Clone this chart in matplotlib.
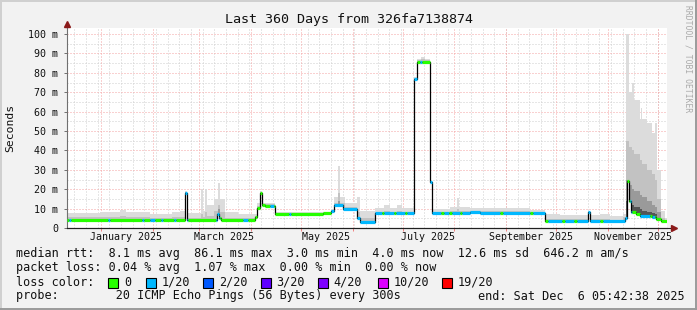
import matplotlib
matplotlib.use("Agg")
import matplotlib.pyplot as plt
from matplotlib.patches import Rectangle
from matplotlib.lines import Line2D
import numpy as np
from datetime import datetime

# ---- data (days since start of the 360 day window, values in ms) ----
start = datetime(2024, 12, 11, 5, 42, 38)
span_days = 360

med_day = [0, 70.8, 72, 90, 91.2, 92.4, 112.8, 114, 115.8, 117, 118.8, 124.8,
           153.6, 158.4, 160.2, 165.6, 174, 175.8, 184.8, 208.2, 210, 217.8,
           219, 241.8, 247.8, 286.8, 312.6, 313.8, 334.8, 336, 337.2, 338.4,
           341.4, 343.8, 351, 353.4, 356.4]
med_val = [4.3, 18.0, 4.3, 7.0, 5.0, 4.3, 5.5, 10.5, 18.0, 12.0, 11.5, 7.3,
           7.8, 9.0, 12.0, 10.0, 5.0, 3.2, 7.7, 77.0, 85.5, 23.5,
           7.7, 8.3, 7.9, 3.7, 8.0, 3.7, 5.0, 24.0, 14.0, 8.0,
           7.0, 6.2, 5.5, 4.5, 3.6]

smoke_day = [0, 19.8, 31.8, 35.4, 49.8, 63, 67.8, 70.8, 72, 80.4, 81.6, 82.8,
             84, 88.2, 90.6, 91.8, 94.8, 102.6, 112.8, 114, 115.8, 117, 124.8,
             158.4, 160.2, 162.6, 163.8, 166.8, 174, 175.8, 184.8, 190.2, 193.8,
             198, 201, 208.2, 210, 212.4, 214.8, 217.8, 219, 229.8, 234, 235.2,
             241.8, 277.8, 286.8, 295.8, 312.6, 313.8, 319.8, 325.8, 333.6,
             335.4, 337.2, 339, 340.2, 343.8, 344.4, 345, 348, 351, 352.8, 354,
             356.4, 358.8]
smoke_hi = [7.5, 8.0, 9.5, 8.0, 7.0, 8.0, 9.0, 19.0, 7.5, 20.0, 9.0, 20.0,
            12.0, 15.0, 23.0, 15.0, 8.0, 7.0, 7.0, 13.0, 19.0, 13.0, 8.5,
            10.0, 16.0, 32.0, 16.0, 13.0, 16.0, 9.0, 10.5, 12.0, 10.5,
            12.0, 10.5, 78.0, 87.0, 88.0, 87.0, 25.0, 10.0, 11.0, 15.5, 11.0,
            10.5, 9.5, 7.0, 6.5, 9.0, 6.5, 7.0, 6.0, 7.0,
            100.0, 70.0, 75.0, 66.0, 56.0, 62.0, 56.0, 54.0, 49.0, 54.0, 30.0,
            9.0, 5.0]
smoke_mid = [5.5, 5.5, 6.0, 5.5, 5.0, 5.5, 5.5, 18.5, 5.0, 7.0, 5.5, 8.0,
             6.0, 9.0, 12.0, 8.0, 5.0, 5.0, 6.0, 11.5, 18.5, 12.5, 7.8,
             9.5, 13.0, 18.0, 13.0, 11.0, 8.0, 5.0, 8.5, 9.0, 8.5,
             9.0, 8.5, 77.5, 86.5, 87.0, 86.5, 24.0, 8.5, 9.0, 10.0, 9.0,
             9.0, 8.5, 4.5, 4.5, 8.5, 4.5, 4.5, 4.3, 5.5,
             45.0, 42.0, 40.0, 38.0, 35.0, 35.0, 33.0, 30.0, 28.0, 25.0, 15.0,
             5.0, 4.0]
smoke_q3 = [0, 0, 0, 0, 0, 0, 0, 18.5, 0, 0, 0, 0,
            0, 0, 10.0, 0, 0, 0, 0, 0, 18.0, 0, 0,
            0, 0, 14.0, 0, 0, 0, 0, 0, 0, 0,
            0, 0, 0, 0, 0, 0, 0, 0, 0, 0, 0,
            0, 0, 0, 0, 0, 0, 0, 0, 0,
            25.0, 22.0, 20.0, 19.0, 17.0, 17.0, 16.0, 14.0, 12.0, 11.0, 8.0,
            0, 0]
smoke_core = [0, 0, 0, 0, 0, 0, 0, 18.0, 0, 0, 0, 0,
              0, 0, 0, 0, 0, 0, 0, 0, 0, 0, 0,
              0, 0, 0, 0, 0, 0, 0, 0, 0, 0,
              0, 0, 0, 0, 0, 0, 0, 0, 0, 0, 0,
              0, 0, 0, 0, 0, 0, 0, 0, 0,
              14.0, 13.0, 12.0, 11.0, 10.0, 10.0, 9.0, 8.0, 7.5, 7.0, 5.0,
              0, 0]

# loss class per stretch: 0 -> 0/20, 1 -> 1/20
loss_day = [0, 1.2, 2.4, 24.6, 25.8, 45, 46.2, 49.8, 52.8, 56.4, 57.6, 64.2,
            65.4, 70.8, 72.6, 89.4, 91.8, 105.6, 108.6, 115.8, 121.8, 124.2,
            133.2, 134.4, 158.4, 189, 190.2, 196.2, 197.4, 202.8, 204, 210,
            211.8, 213, 217.8, 224.4, 226.2, 229.2, 231, 235.8, 237, 259.8,
            261.6, 277.8, 279.6, 286.8, 288.6, 297, 298.8, 304.2, 306, 319.8,
            321.6, 336, 337.8, 339, 343.8, 349.8, 351, 352.8]
loss_cls = [0, 1, 0, 1, 0, 1, 0, 1, 0, 1, 0, 1,
            0, 1, 0, 1, 0, 1, 0, 0, 1, 0,
            1, 0, 1, 0, 1, 0, 1, 0, 1, 0,
            1, 0, 1, 0, 1, 0, 1, 0, 1, 0,
            1, 0, 1, 0, 1, 0, 1, 0, 1, 0,
            1, 0, 1, 0, 1, 0, 1, 0]

loss_labels = ["0", "1/20", "2/20", "3/20", "4/20", "10/20", "19/20"]
loss_colors = ["#26ff00", "#00b8ff", "#0059ff", "#5e00ff", "#7e00ff", "#dd00ff", "#ff0000"]

y_ticks = [0, 10, 20, 30, 40, 50, 60, 70, 80, 90, 100]
y_tick_labels = ["0", "10 m", "20 m", "30 m", "40 m", "50 m", "60 m", "70 m", "80 m", "90 m", "100 m"]
month_labels = ["January 2025", "March 2025", "May 2025", "July 2025", "September 2025", "November 2025"]

title = "Last 360 Days from 326fa7138874"
stats_rtt = "median rtt:  8.1 ms avg  86.1 ms max  3.0 ms min  4.0 ms now  12.6 ms sd  646.2 m am/s"
stats_loss = "packet loss: 0.04 % avg  1.07 % max  0.00 % min  0.00 % now"
probe_txt = "probe:        20 ICMP Echo Pings (56 Bytes) every 300s"
end_txt = "end: Sat Dec  6 05:42:38 2025"


def step_at(days, vals, x):
    idx = np.searchsorted(np.asarray(days), x, side="right") - 1
    return np.asarray(vals)[idx]


def days_since(dt):
    return (dt - start).total_seconds() / 86400.0


W, H = 697, 310
plt.rcParams['font.family'] = ['DejaVu Sans Mono']
fig = plt.figure(figsize=(W / 100, H / 100), dpi=100, facecolor="#f2f2f2")


def fx(px):
    return px / W


def fy(py):
    return 1 - py / H


ax_left, ax_right, ax_top, ax_bot = 66.5, 666.5, 28, 228
ax = fig.add_axes([fx(ax_left), fy(ax_bot), (ax_right - ax_left) / W, (ax_bot - ax_top) / H])
ax.set_facecolor("white")
ymax = (ax_bot - ax_top) / 1.94
ax.set_xlim(0, span_days)
ax.set_ylim(0, ymax)

# grid
month_starts = [days_since(datetime(2025, m, 1)) for m in range(1, 13)]
first_monday = days_since(datetime(2024, 12, 16))
weeks = np.arange(first_monday, span_days, 7)
dot = (0, (1, 2))
for w in weeks:
    ax.axvline(w, color="#cfcfcf", lw=0.72, ls=dot, zorder=0)
for v in range(5, 101, 10):
    ax.axhline(v, color="#cfcfcf", lw=0.72, ls=dot, zorder=0)
for m in month_starts:
    ax.axvline(m, color="#f4a3a3", lw=0.72, ls=dot, zorder=0.5)
for v in range(10, 101, 10):
    ax.axhline(v, color="#f4a3a3", lw=0.72, ls=dot, zorder=0.5)

# smoke
edges = np.union1d(np.union1d(med_day, smoke_day), [span_days])
left = edges[:-1]
width = np.diff(edges)
med_e = step_at(med_day, med_val, left)
layers = [(smoke_hi, "#dcdcdc"), (smoke_mid, "#c2c2c2"), (smoke_q3, "#9a9a9a"), (smoke_core, "#555555")]
for k, (arr, col) in enumerate(layers):
    top = step_at(smoke_day, arr, left)
    ax.bar(left, np.maximum(top - med_e, 0), width, bottom=med_e, align="edge",
           color=col, linewidth=0, zorder=1 + 0.1 * k)

# median line
ax.step(list(med_day) + [span_days], list(med_val) + [med_val[-1]], where="post",
        color="black", lw=0.9, zorder=2)
seg = np.union1d(np.union1d(med_day, loss_day), [span_days])
s_left = seg[:-1]
s_right = seg[1:]
s_val = step_at(med_day, med_val, s_left)
s_cls = step_at(loss_day, loss_cls, s_left)
ax.hlines(s_val, s_left, s_right, colors=[loss_colors[c] for c in s_cls],
          lw=2.3, zorder=3)

# axes
for s in ["top", "right"]:
    ax.spines[s].set_visible(False)
ax.spines["left"].set_color("#707070")
ax.spines["left"].set_linewidth(0.8)
ax.spines["bottom"].set_color("#202020")
ax.spines["bottom"].set_linewidth(0.8)
ax.plot([0, 1.012], [0, 0], transform=ax.transAxes, color="#202020", lw=0.8, clip_on=False, zorder=4)
ax.plot([0, 0], [1, 1.02], transform=ax.transAxes, color="#707070", lw=0.8, clip_on=False, zorder=4)
ax.plot([1.012], [0], transform=ax.transAxes, marker=">", color="#8b1a1a", ms=4, clip_on=False, zorder=5)
ax.plot([0], [1.02], transform=ax.transAxes, marker="^", color="#8b1a1a", ms=4, clip_on=False, zorder=5)

ax.set_yticks(y_ticks)
ax.set_yticklabels(y_tick_labels)
ax.tick_params(axis="y", length=2, width=0.7, color="#707070", pad=4, labelsize=7.2, labelcolor="#111111")
ax.set_xticks(month_starts)
ax.set_xticklabels([])
ax.tick_params(axis="x", length=2, width=0.7, color="#f08080", direction="out")
label_pos = [month_starts[i] + 15 for i in range(0, 12, 2)]
for pos, lab in zip(label_pos, month_labels):
    ax.text(pos, -0.045, lab, transform=ax.get_xaxis_transform(), ha="center", va="center",
            fontsize=7.2, color="#111111")

ax.set_ylabel("Seconds", fontsize=8.2, color="#111111", labelpad=0)
ax.yaxis.set_label_coords((15.5 - ax_left) / (ax_right - ax_left), 0.5)

# texts
fig.text(fx(349), fy(19), title, ha="center", va="center", fontsize=9.6, color="#111111")
fig.text(fx(688), fy(59), "RRDTOOL / TOBI OETIKER", rotation=270, ha="center", va="center",
         fontsize=5.8, color="#aaaaaa")
fig.text(fx(16), fy(254), stats_rtt, ha="left", va="center", fontsize=8.5, color="#111111")
fig.text(fx(16), fy(268), stats_loss, ha="left", va="center", fontsize=8.5, color="#111111")
fig.text(fx(16), fy(282), "loss color:", ha="left", va="center", fontsize=8.5, color="#111111")
box_x = [108.3, 145.7, 203.3, 261, 318.3, 378.3, 441.7]
for bx, lab, col in zip(box_x, loss_labels, loss_colors):
    fig.add_artist(Rectangle((fx(bx), fy(288)), 10 / W, 10 / H, facecolor=col,
                             edgecolor="black", lw=0.8, transform=fig.transFigure))
    fig.text(fx(bx + 15.5), fy(282), lab, ha="left", va="center", fontsize=8.5, color="#111111")
fig.text(fx(16), fy(296), probe_txt, ha="left", va="center", fontsize=8.5, color="#111111")
fig.text(fx(478), fy(296), end_txt, ha="left", va="center", fontsize=8.5, color="#111111")

# canvas bevel
fig.add_artist(Line2D([0, 1], [fy(0.5), fy(0.5)], transform=fig.transFigure, color="#d0d0d0", lw=1.4))
fig.add_artist(Line2D([fx(0.5), fx(0.5)], [0, 1], transform=fig.transFigure, color="#d0d0d0", lw=1.4))
fig.add_artist(Line2D([0, 1], [fy(309), fy(309)], transform=fig.transFigure, color="#9a9a9a", lw=1.4))
fig.add_artist(Line2D([fx(696), fx(696)], [0, 1], transform=fig.transFigure, color="#9a9a9a", lw=1.4))

fig.savefig("out.png", dpi=100, facecolor=fig.get_facecolor())
